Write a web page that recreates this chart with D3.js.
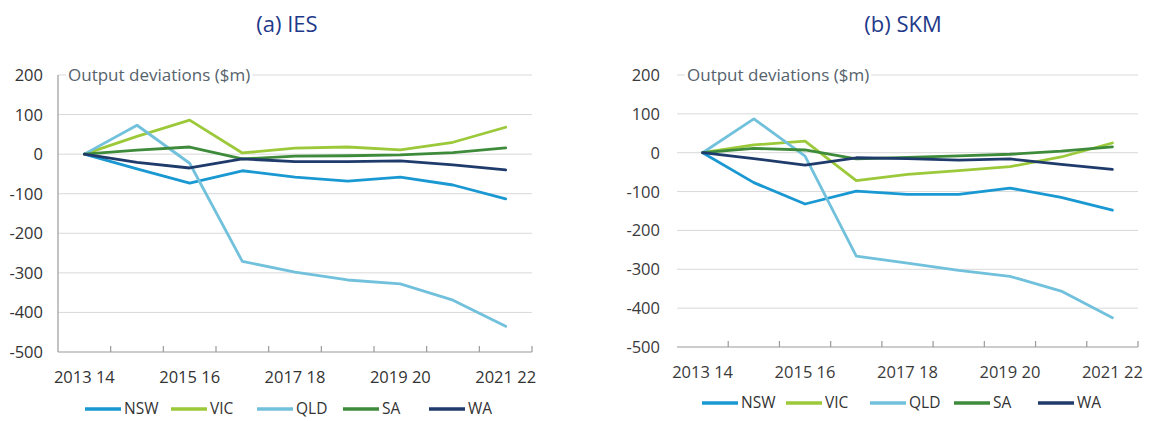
<!DOCTYPE html>
<html>
<head>
<meta charset="utf-8">
<script src="https://cdn.jsdelivr.net/npm/d3@7"></script>
<style>
  html, body { margin: 0; padding: 0; background: #fff; }
  svg { display: block; }
</style>
</head>
<body>
<svg id="chart" width="1161" height="421"></svg>
<script>
// ---------- DATA ----------
const categories = ["2013 14","2014 15","2015 16","2016 17","2017 18","2018 19","2019 20","2020 21","2021 22"];
const tickLabels = ["2013 14","2015 16","2017 18","2019 20","2021 22"];
const yTicks = [200, 100, 0, -100, -200, -300, -400, -500];
const seriesNames = ["NSW","VIC","QLD","SA","WA"];
const seriesColors = ["#1a98d2","#9cc93a","#72c1dc","#3f8b3c","#1f3b6b"];

// (a) IES
const iesNSW = [0, -37, -73, -42, -58, -68, -58, -78, -113];
const iesVIC = [0, 45, 86, 3, 15, 18, 11, 30, 68];
const iesQLD = [0, 73, -23, -271, -298, -318, -328, -369, -435];
const iesSA  = [0, 10, 18, -12, -5, -4, -2, 4, 16];
const iesWA  = [0, -21, -35, -12, -19, -19, -17, -27, -40];

// (b) SKM
const skmNSW = [0, -77, -132, -99, -107, -107, -91, -115, -148];
const skmVIC = [0, 20, 30, -72, -56, -46, -36, -11, 25];
const skmQLD = [0, 87, -9, -266, -284, -303, -318, -356, -425];
const skmSA  = [0, 11, 7, -16, -12, -8, -4, 4, 15];
const skmWA  = [0, -15, -32, -13, -15, -19, -16, -30, -43];

const panels = [
  { title: "(a) IES", titleX: 287, series: [iesNSW, iesVIC, iesQLD, iesSA, iesWA],
    x0: 58, x1: 532, yTop: 75, yBot: 352, yAxisLine: true, labelRight: 43,
    legendY: 409, legendStart: 85, legendStep: 86, labelColor: "#333" },
  { title: "(b) SKM", titleX: 903, series: [skmNSW, skmVIC, skmQLD, skmSA, skmWA],
    x0: 677, x1: 1138, yTop: 75, yBot: 347, yAxisLine: false, labelRight: 660,
    legendY: 403, legendStart: 702, legendStep: 84, labelColor: "#3a3a3a" }
];

const svg = d3.select("#chart");
const FONT = "'Open Sans', 'Noto Sans', sans-serif";

panels.forEach(p => {
  const g = svg.append("g");
  const x = d3.scaleBand().domain(categories).range([p.x0, p.x1]).paddingInner(0).paddingOuter(0);
  const y = d3.scaleLinear().domain([-500, 200]).range([p.yBot, p.yTop]);

  // title
  g.append("text").attr("x", p.titleX).attr("y", 32)
    .attr("text-anchor", "middle").attr("font-family", FONT)
    .attr("font-size", 22).attr("fill", "#1f3a8a").text(p.title);

  // gridlines
  g.selectAll(".grid").data(yTicks.filter(v => v !== -500)).enter().append("line")
    .attr("x1", p.x0).attr("x2", p.x1)
    .attr("y1", d => y(d)).attr("y2", d => y(d))
    .attr("stroke", "#d9d9d9").attr("stroke-width", 1);

  // y tick labels
  g.selectAll(".ylab").data(yTicks).enter().append("text")
    .attr("x", p.labelRight).attr("y", d => y(d)).attr("dy", "0.36em")
    .attr("text-anchor", "end").attr("font-family", FONT).attr("font-size", 16.5)
    .attr("fill", p.labelColor).text(d => d);

  // y axis line
  if (p.yAxisLine) {
    g.append("line").attr("x1", p.x0).attr("x2", p.x0)
      .attr("y1", p.yTop).attr("y2", p.yBot)
      .attr("stroke", "#9a9a9a").attr("stroke-width", 1.2);
  }

  // x axis line & ticks
  g.append("line").attr("x1", p.x0).attr("x2", p.x1)
    .attr("y1", p.yBot).attr("y2", p.yBot)
    .attr("stroke", "#9a9a9a").attr("stroke-width", 1.2);
  const bounds = categories.map(c => x(c)).concat([x(categories[categories.length - 1]) + x.bandwidth()]);
  g.selectAll(".xtick").data(bounds.slice(1)).enter().append("line")
    .attr("x1", d => d).attr("x2", d => d)
    .attr("y1", p.yBot).attr("y2", p.yBot - 6)
    .attr("stroke", "#9a9a9a").attr("stroke-width", 1.2);

  // x labels
  g.selectAll(".xlab").data(tickLabels).enter().append("text")
    .attr("x", d => x(d) + x.bandwidth() / 2).attr("y", p.yBot + 25)
    .attr("dy", "0.36em")
    .attr("text-anchor", "middle").attr("font-family", FONT).attr("font-size", 16.5)
    .attr("fill", p.labelColor).text(d => d);

  // axis title with white background on top gridline
  const t = g.append("text").attr("x", p.x0 + 10).attr("y", y(200)).attr("dy", "0.36em")
    .attr("font-family", FONT).attr("font-size", 17).attr("fill", "#56626c")
    .text("Output deviations ($m)");
  const bb = t.node().getBBox();
  g.insert("rect", () => t.node()).attr("x", bb.x - 2).attr("y", bb.y)
    .attr("width", bb.width + 4).attr("height", bb.height).attr("fill", "#fff");

  // lines
  const line = d3.line().x((d, i) => x(categories[i]) + x.bandwidth() / 2).y(d => y(d));
  p.series.forEach((s, k) => {
    g.append("path").datum(s).attr("d", line)
      .attr("fill", "none").attr("stroke", seriesColors[k])
      .attr("stroke-width", 2.8).attr("stroke-linejoin", "round").attr("stroke-linecap", "round");
  });

  // legend
  seriesNames.forEach((n, k) => {
    const lx = p.legendStart + k * p.legendStep;
    g.append("line").attr("x1", lx).attr("x2", lx + 36)
      .attr("y1", p.legendY).attr("y2", p.legendY)
      .attr("stroke", seriesColors[k]).attr("stroke-width", 3.5).attr("stroke-linecap", "butt");
    g.append("text").attr("x", lx + 39).attr("y", p.legendY).attr("dy", "0.35em")
      .attr("font-family", FONT).attr("font-size", 15.5).attr("fill", "#333").text(n);
  });
});
</script>
</body>
</html>
